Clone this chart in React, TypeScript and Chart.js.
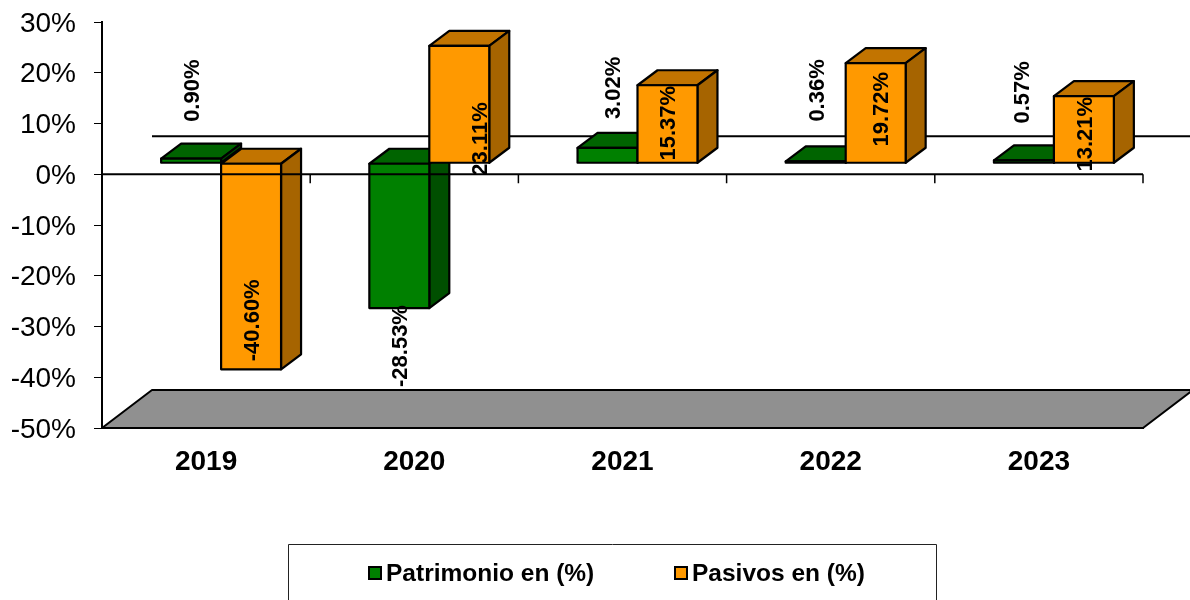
import React, { useEffect, useRef } from "react";
import { Chart, registerables } from "chart.js";

Chart.register(...registerables);

const years = ["2019", "2020", "2021", "2022", "2023"];
const patrimonio = [0.9, -28.53, 3.02, 0.36, 0.57];
const pasivos = [-40.6, 23.11, 15.37, 19.72, 13.21];
const tickValues = [-50, -40, -30, -20, -10, 0, 10, 20, 30];

// Hand placement of the rotated value labels, relative to each bar's tip
const patrimonioNudge = [[2, -68], [2, 38], [6, -60], [2, -71], [-1, -68]];
const pasivosNudge = [[2, -49], [22, 93], [1, 38], [6, 46], [2, 38]];

const FONT = '"Liberation Sans", Arial, sans-serif';
const BAR_SHIFT = { x: 15, y: -11 };
const BAR_DEPTH = { x: 20, y: 15 };
const WALL = { x: 50, y: 38 };
const LINE = 2;
const BAR_LINE = 2.2;

const faces = [
  { top: "#006400", side: "#004F00" },
  { top: "#C27400", side: "#A66400" },
];

const poly = (ctx: CanvasRenderingContext2D, pts: number[][], fill: string | null, width: number) => {
  ctx.beginPath();
  pts.forEach((p, i) => (i ? ctx.lineTo(p[0], p[1]) : ctx.moveTo(p[0], p[1])));
  ctx.closePath();
  if (fill) {
    ctx.fillStyle = fill;
    ctx.fill();
  }
  ctx.lineWidth = width;
  ctx.lineJoin = "round";
  ctx.strokeStyle = "#000";
  ctx.stroke();
};

const box3d = {
  id: "box3d",
  beforeDatasetsDraw(chart: any) {
    const { ctx, chartArea: a, scales } = chart;
    const floorY = a.bottom - WALL.y;
    const backZero = scales.y.getPixelForValue(0) - WALL.y;
    ctx.save();
    ctx.beginPath();
    ctx.moveTo(a.left + WALL.x, backZero);
    ctx.lineTo(a.right + WALL.x, backZero);
    ctx.lineWidth = LINE;
    ctx.strokeStyle = "#000";
    ctx.stroke();
    poly(
      ctx,
      [
        [a.left, a.bottom],
        [a.left + WALL.x, floorY],
        [a.right + WALL.x, floorY],
        [a.right, a.bottom],
      ],
      "#909090",
      LINE
    );
    ctx.restore();
  },
  // Chart.js paints the first dataset last; here the later one has to be in front.
  beforeDatasetDraw() {
    return false;
  },
  afterDatasetsDraw(chart: any) {
    const { ctx, chartArea: a, scales } = chart;
    chart.data.datasets.forEach((_: any, di: number) => {
      const meta = chart.getDatasetMeta(di);
      const f = faces[di];
      ctx.save();
      ctx.translate(BAR_SHIFT.x, BAR_SHIFT.y);
      meta.data.forEach((bar: any) => {
        const x0 = bar.x - bar.width / 2;
        const x1 = bar.x + bar.width / 2;
        const yt = Math.min(bar.y, bar.base);
        const yb = Math.max(bar.y, bar.base);
        const d = BAR_DEPTH;
        poly(ctx, [[x0, yt], [x0 + d.x, yt - d.y], [x1 + d.x, yt - d.y], [x1, yt]], f.top, BAR_LINE);
        poly(ctx, [[x1, yt], [x1 + d.x, yt - d.y], [x1 + d.x, yb - d.y], [x1, yb]], f.side, BAR_LINE);
      });
      meta.controller.draw();
      meta.data.forEach((bar: any) => {
        const x0 = bar.x - bar.width / 2;
        const x1 = bar.x + bar.width / 2;
        const yt = Math.min(bar.y, bar.base);
        const yb = Math.max(bar.y, bar.base);
        poly(ctx, [[x0, yt], [x1, yt], [x1, yb], [x0, yb]], null, BAR_LINE);
      });
      ctx.restore();
    });

    const zero = scales.y.getPixelForValue(0);
    ctx.save();
    ctx.strokeStyle = "#000";
    ctx.lineWidth = LINE;
    ctx.beginPath();
    ctx.moveTo(a.left, zero);
    ctx.lineTo(a.right, zero);
    ctx.stroke();
    const step = (a.right - a.left) / years.length;
    ctx.beginPath();
    for (let i = 1; i <= years.length; i++) {
      const x = a.left + step * i;
      ctx.moveTo(x, zero);
      ctx.lineTo(x, zero + 9);
    }
    ctx.lineWidth = 1.5;
    ctx.stroke();

    // value labels
    ctx.fillStyle = "#000";
    ctx.font = `bold 22px ${FONT}`;
    ctx.textAlign = "center";
    ctx.textBaseline = "middle";
    const nudges = [patrimonioNudge, pasivosNudge];
    chart.data.datasets.forEach((ds: any, di: number) => {
      chart.getDatasetMeta(di).data.forEach((bar: any, i: number) => {
        ctx.save();
        ctx.translate(bar.x + BAR_SHIFT.x + nudges[di][i][0], bar.y + BAR_SHIFT.y + nudges[di][i][1]);
        ctx.rotate(-Math.PI / 2);
        ctx.fillText(ds.data[i].toFixed(2) + "%", 0, 0);
        ctx.restore();
      });
    });
    ctx.restore();
  },
  afterDraw(chart: any) {
    const { ctx } = chart;
    ctx.save();
    ctx.strokeStyle = "#222";
    ctx.lineWidth = 1;
    ctx.beginPath();
    ctx.moveTo(288.5, 605);
    ctx.lineTo(288.5, 544.5);
    ctx.lineTo(936.5, 544.5);
    ctx.lineTo(936.5, 605);
    ctx.stroke();
    const marks = [368, 674];
    ctx.font = `bold 24.5px ${FONT}`;
    ctx.textAlign = "left";
    ctx.textBaseline = "alphabetic";
    chart.data.datasets.forEach((ds: any, i: number) => {
      ctx.fillStyle = ds.backgroundColor;
      ctx.fillRect(marks[i] + 1, 567, 12, 12);
      ctx.strokeStyle = "#000";
      ctx.lineWidth = 2;
      ctx.strokeRect(marks[i] + 1, 567, 12, 12);
      ctx.fillStyle = "#000";
      ctx.fillText(ds.label, marks[i] + 18, 581);
    });
    ctx.restore();
  },
};

export default function App() {
  const ref = useRef<HTMLCanvasElement>(null);
  useEffect(() => {
    document.body.style.margin = "0";
    const chart = new Chart(ref.current as HTMLCanvasElement, {
      type: "bar",
      data: {
        labels: years,
        datasets: [
          {
            label: "Patrimonio en (%)",
            data: patrimonio,
            backgroundColor: "#008000",
            borderWidth: 0,
            clip: false,
          },
          {
            label: "Pasivos en (%)",
            data: pasivos,
            backgroundColor: "#FF9900",
            borderWidth: 0,
            clip: false,
          },
        ],
      } as any,
      options: {
        responsive: false,
        animation: false,
        layout: { padding: { top: 22, right: 47, left: 0, bottom: 0 } },
        datasets: { bar: { categoryPercentage: 0.576, barPercentage: 1 } },
        plugins: { legend: { display: false }, tooltip: { enabled: false } },
        scales: {
          x: {
            grid: { display: false, drawTicks: false },
            border: { display: true, color: "#000", width: LINE },
            ticks: {
              color: "#000",
              padding: 17,
              maxRotation: 0,
              font: { family: FONT, size: 28, weight: "bold" },
            },
            afterFit: (s: any) => {
              s.height = 172;
            },
          },
          y: {
            min: -50,
            max: 30,
            afterBuildTicks: (s: any) => {
              s.ticks = tickValues.map((value) => ({ value }));
            },
            grid: { drawOnChartArea: false, drawTicks: true, tickLength: 8, color: "#000", lineWidth: 1 },
            border: { display: true, color: "#000", width: LINE },
            ticks: {
              color: "#000",
              padding: 18,
              labelOffset: 2,
              font: { family: FONT, size: 28 },
              callback: (v: any) => v + "%",
            },
            afterFit: (s: any) => {
              s.width = 102;
              s.paddingTop = 0;
              s.paddingBottom = 0;
            },
          },
        },
      } as any,
      plugins: [box3d],
    });
    return () => chart.destroy();
  }, []);
  return (
    <div style={{ position: "absolute", left: 0, top: 0, width: 1190, height: 600, overflow: "hidden" }}>
      <canvas ref={ref} width={1190} height={600} style={{ display: "block" }} />
    </div>
  );
}
